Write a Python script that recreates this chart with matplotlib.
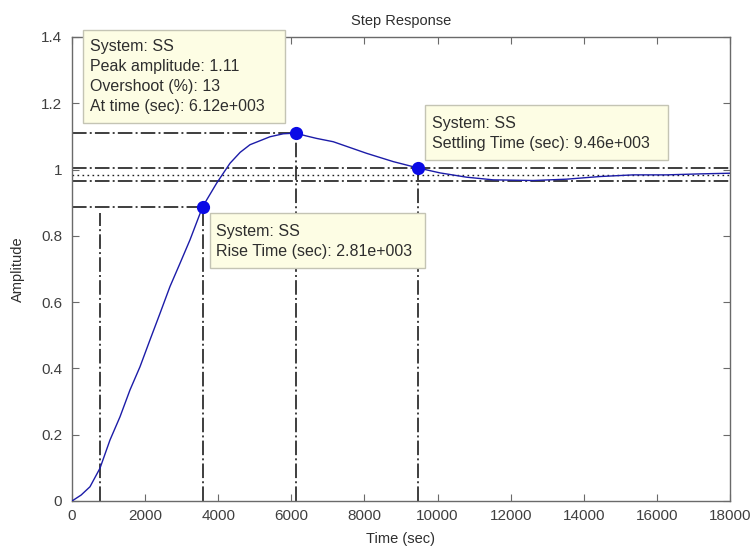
import matplotlib
matplotlib.use("Agg")
import matplotlib.pyplot as plt
from matplotlib.patches import Rectangle

# ---- data ----
time = [0, 250, 492, 766, 1039, 1313, 1586, 1860, 2133, 2407, 2680, 2954, 3228,
        3574, 3957, 4322, 4600, 4869, 5416, 5780, 6120, 6390, 6692, 7147, 8060,
        8788, 9460, 10066, 10795, 11524, 12617, 13530, 14442, 15350, 16260,
        17177, 18000]
amplitude = [0, 0.018, 0.043, 0.099, 0.184, 0.254, 0.335, 0.405, 0.486, 0.566,
             0.647, 0.717, 0.788, 0.888, 0.959, 1.019, 1.052, 1.075, 1.099,
             1.108, 1.11, 1.102, 1.094, 1.084, 1.049, 1.024, 1.005, 0.990,
             0.977, 0.969, 0.967, 0.971, 0.979, 0.984, 0.984, 0.987, 0.989]

rise_t10 = 766
rise_t90 = 3574
rise_y90 = 0.888
peak_t = 6120
peak_y = 1.11
settle_t = 9460
settle_y = 1.005
final_value = 0.985
band_high = 1.005
band_low = 0.965

xticks = [0, 2000, 4000, 6000, 8000, 10000, 12000, 14000, 16000, 18000]
yticks = [0, 0.2, 0.4, 0.6, 0.8, 1, 1.2, 1.4]
xtick_labels = ["0", "2000", "4000", "6000", "8000", "10000", "12000", "14000", "16000", "18000"]
ytick_labels = ["0", "0.2", "0.4", "0.6", "0.8", "1", "1.2", "1.4"]

peak_text = ["System: SS", "Peak amplitude: 1.11", "Overshoot (%): 13", "At time (sec): 6.12e+003"]
settle_text = ["System: SS", "Settling Time (sec): 9.46e+003"]
rise_text = ["System: SS", "Rise Time (sec): 2.81e+003"]

# ---- style ----
plt.rcParams['font.family'] = ['Liberation Sans', 'DejaVu Sans']
plt.rcParams['lines.scale_dashes'] = False
txt_col = '#2e2e2e'
ax_col = '#6a6a6a'
dashdot = (0, (10.5, 2.3, 1.4, 2.3))
dotted = (0, (1.2, 2.4))
lk = dict(color='#1e1e1e', lw=1.2, linestyle=dashdot, zorder=2)

fig = plt.figure(figsize=(7.54, 5.52), dpi=100)
ax = fig.add_axes([72/754, 51/552, 658/754, 464/552])

ax.set_xlim(0, 18000)
ax.set_ylim(0, 1.4)

# characteristic lines
ax.axhline(band_high, **lk)
ax.axhline(band_low, **lk)
ax.axhline(final_value, color='#1e1e1e', lw=1.0, linestyle=dotted, zorder=2)
ax.plot([0, peak_t], [peak_y, peak_y], **lk)
ax.plot([peak_t, peak_t], [0, peak_y], **lk)
ax.plot([0, rise_t90], [rise_y90, rise_y90], **lk)
ax.plot([rise_t90, rise_t90], [0, rise_y90], **lk)
ax.plot([rise_t10, rise_t10], [0, rise_y90 - 0.02], **lk)
ax.plot([settle_t, settle_t], [0, settle_y], **lk)

# response
ax.plot(time, amplitude, color='#1c1ca8', lw=1.0, zorder=3)
ax.plot([rise_t90, peak_t, settle_t], [rise_y90, peak_y, settle_y], 'o',
        color='#0a0ae6', markersize=9.5, zorder=4, markeredgewidth=0)

# ticks
ax.set_xticks(xticks)
ax.set_xticklabels(xtick_labels)
ax.set_yticks(yticks)
ax.set_yticklabels(ytick_labels)
ax.tick_params(direction='in', length=5, width=0.8, color=ax_col,
               top=True, right=True, labelsize=11, labelcolor='#404040')
ax.tick_params(axis='y', pad=7)
ax.tick_params(axis='x', pad=6)
for s in ax.spines.values():
    s.set_color(ax_col)
    s.set_linewidth(1.0)

ax.set_title("Step Response", fontsize=10.5, color=txt_col, pad=9)
ax.set_xlabel("Time (sec)", fontsize=10.5, color=txt_col, labelpad=6)
ax.set_ylabel("Amplitude", fontsize=10.5, color=txt_col, labelpad=12)

# data tip boxes (axes-fraction positions)
def fx(px):
    return (px - 72) / 658.0

def fy(py):
    return (501 - py) / 464.0

def tip(x0, y0, x1, y1, tx, ty_list, lines):
    r = Rectangle((fx(x0), fy(y1)), fx(x1) - fx(x0), fy(y0) - fy(y1),
                  transform=ax.transAxes, facecolor='#fdfde4', edgecolor='#c4c4b4',
                  lw=1.0, zorder=6, clip_on=False)
    ax.add_patch(r)
    for ty, s in zip(ty_list, lines):
        ax.text(fx(tx), fy(ty), s, transform=ax.transAxes, fontsize=11.5,
                color=txt_col, va='center', ha='left', zorder=7, clip_on=False)

tip(83, 30, 285, 123, 90.5, [46.7, 66.7, 86.7, 106.7], peak_text)
tip(425, 105, 668, 160, 431.5, [123.3, 143.3], settle_text)
tip(210, 213, 425, 268, 216.5, [231.7, 251.7], rise_text)

fig.savefig("out.png", dpi=100, facecolor='white')
